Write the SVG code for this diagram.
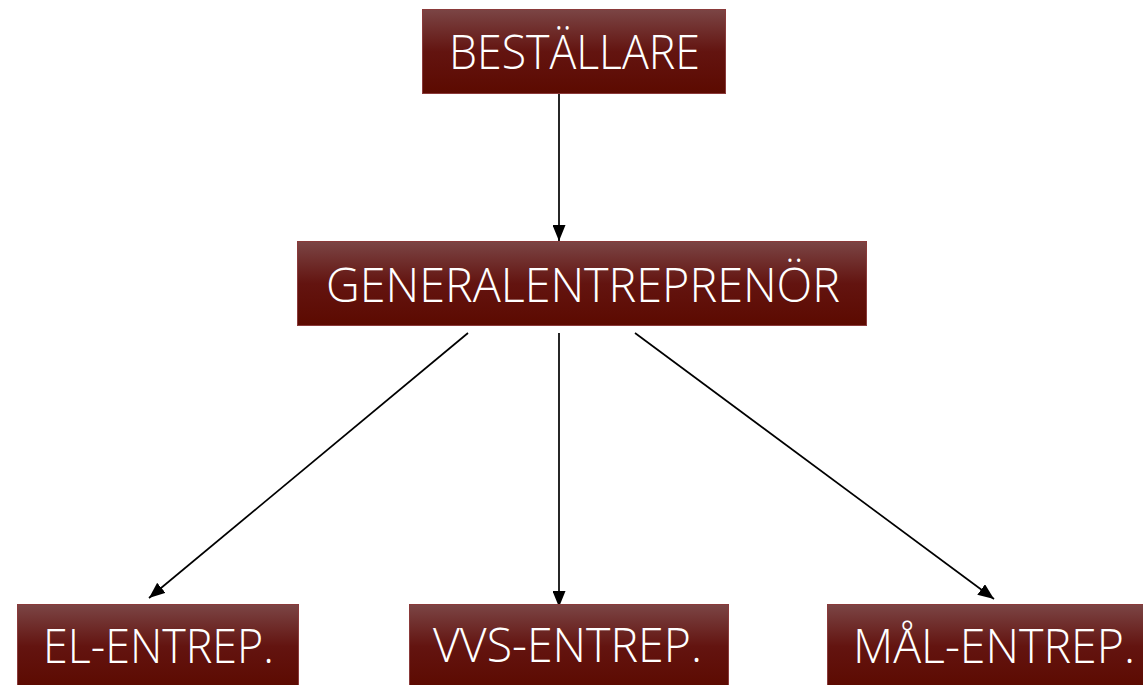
<svg xmlns="http://www.w3.org/2000/svg" width="1143" height="685" viewBox="0 0 1143 685">
<defs>
<linearGradient id="g" x1="0" y1="0" x2="0" y2="1">
<stop offset="0" stop-color="#7b4545"/>
<stop offset="0.5" stop-color="#631410"/>
<stop offset="1" stop-color="#5c0a00"/>
</linearGradient>
<marker id="ah" markerWidth="16" markerHeight="13" refX="16" refY="6.5" orient="auto" markerUnits="userSpaceOnUse">
<path d="M0,0 L16,6.5 L0,13 z" fill="#000"/>
</marker>
<style>
.box{fill:url(#g);stroke:#8a3a3a;stroke-width:1}
.lbl{font-family:"Open Sans","Noto Sans","Liberation Sans",sans-serif;font-weight:300;font-size:47px;fill:#fff;text-anchor:middle}
.c{stroke:#000;stroke-width:1.7;fill:none;marker-end:url(#ah)}
</style>
</defs>
<rect width="1143" height="685" fill="#fff"/>
<g id="connectors">
<line class="c" x1="559" y1="94" x2="559" y2="241"/>
<line class="c" x1="468" y1="333" x2="149" y2="598"/>
<line class="c" x1="559" y1="333" x2="559" y2="607"/>
<line class="c" x1="635" y1="333" x2="994" y2="599"/>
</g>
<g id="bestallare">
<rect class="box" x="422.5" y="9.5" width="303" height="84"/>
<text class="lbl" x="574.5" y="69" textLength="251" lengthAdjust="spacingAndGlyphs">BESTÄLLARE</text>
</g>
<g id="generalentreprenor">
<rect class="box" x="297.5" y="241.5" width="569" height="84"/>
<text class="lbl" x="583" y="302" textLength="514" lengthAdjust="spacingAndGlyphs">GENERALENTREPRENÖR</text>
</g>
<g id="el-entrep">
<rect class="box" x="17.5" y="604.5" width="281" height="84"/>
<text class="lbl" x="158.5" y="663" textLength="231" lengthAdjust="spacingAndGlyphs">EL-ENTREP.</text>
</g>
<g id="vvs-entrep">
<rect class="box" x="409.5" y="604.5" width="319" height="84"/>
<text class="lbl" x="567.5" y="662" textLength="269" lengthAdjust="spacingAndGlyphs">VVS-ENTREP.</text>
</g>
<g id="mal-entrep">
<rect class="box" x="827.5" y="604.5" width="330" height="84"/>
<text class="lbl" x="994" y="663" textLength="282" lengthAdjust="spacingAndGlyphs">MÅL-ENTREP.</text>
</g>
</svg>
